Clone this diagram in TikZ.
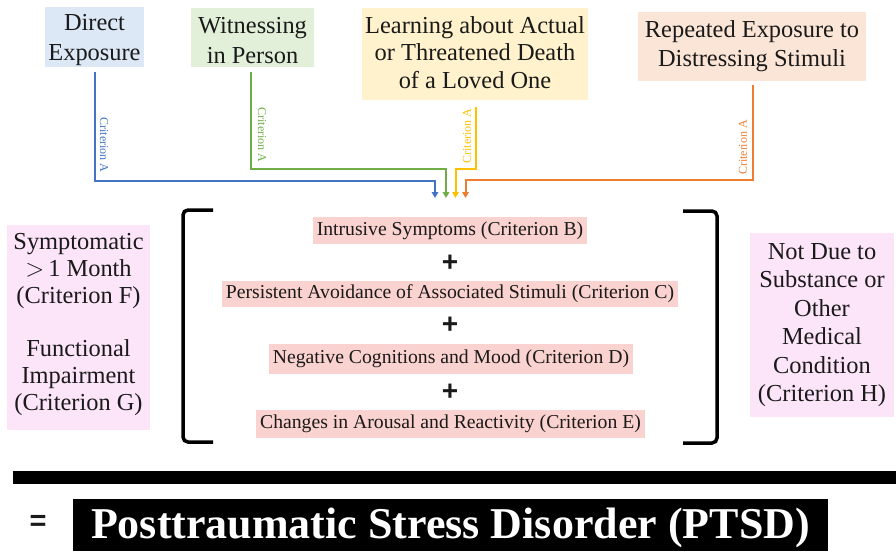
\documentclass[tikz,border=0pt]{standalone}
\usepackage{fontspec}
\setmainfont{Liberation Serif}
\newfontfamily\symfont{Liberation Sans}
\usetikzlibrary{arrows.meta}
\definecolor{bluefill}{HTML}{DCE8F5}
\definecolor{greenfill}{HTML}{E2F0D9}
\definecolor{yellowfill}{HTML}{FFF2CC}
\definecolor{orangefill}{HTML}{FBE5D6}
\definecolor{pinkfill}{HTML}{FAD2CF}
\definecolor{sidefill}{HTML}{FCE4F9}
\definecolor{cblue}{HTML}{4472C4}
\definecolor{cgreen}{HTML}{70AD47}
\definecolor{cyellow}{HTML}{FFC000}
\definecolor{corange}{HTML}{ED7D31}
\definecolor{txt}{HTML}{1A1A1A}
\begin{document}
\begin{tikzpicture}[x=1pt,y=-1pt,
  boxfill/.style={rectangle,inner sep=0pt,fill=#1},
  boxtext/.style={inner sep=0pt,align=center,text=txt},
  symbox/.style={rectangle,fill=pinkfill,inner xsep=4pt,inner ysep=0pt,
    text height=13.5pt,text depth=4.5pt,text=txt,
    font=\fontsize{19.7}{22}\selectfont},
  plussign/.style={inner sep=0pt,text=txt,font=\symfont\bfseries\fontsize{28}{28}\selectfont},
  conn/.style={line width=2pt,line join=miter,-{Triangle[length=6pt,width=6.5pt]}},
  critlab/.style={inner sep=0pt,font=\fontsize{12}{12}\selectfont},
  bracketline/.style={line width=3.5pt,rounded corners=5pt,line cap=butt}
]
\useasboundingbox (0,0) rectangle (896,551);

% top boxes
\node[boxfill=bluefill,minimum width=99pt,minimum height=60pt] (direct) at (94.5,37) {};
\node[boxtext,font=\fontsize{24.4}{30}\selectfont] (directtext) at (94.5,40) {Direct\\Exposure};
\node[boxfill=greenfill,minimum width=123pt,minimum height=59pt] (witness) at (252.5,37.5) {};
\node[boxtext,font=\fontsize{24.4}{30}\selectfont] (witnesstext) at (252.5,40.5) {Witnessing\\in Person};
\node[boxfill=yellowfill,minimum width=226pt,minimum height=92pt] (learn) at (475,54) {};
\node[boxtext,font=\fontsize{24.4}{27.5}\selectfont] (learntext) at (475,52.5) {Learning about Actual\\or Threatened Death\\of a Loved One};
\node[boxfill=orangefill,minimum width=228pt,minimum height=69pt] (repeat) at (752,46.5) {};
\node[boxtext,font=\fontsize{24.4}{29}\selectfont] (repeattext) at (752,46.5) {Repeated Exposure to\\Distressing Stimuli};

% arrow end points
\coordinate (tb) at (435,198);
\coordinate (tg) at (446,198);
\coordinate (ty) at (455.5,198);
\coordinate (to) at (465.5,198);

% connectors
\draw[conn,cblue] ([yshift=-5pt]direct.south) |- ([yshift=17pt]tb) -- (tb);
\draw[conn,cgreen] ([xshift=-1.5pt,yshift=-5pt]witness.south) |- ([yshift=29pt]tg) -- (tg);
\draw[conn,cyellow] ([xshift=1pt,yshift=-7pt]learn.south) |- ([yshift=29pt]ty) -- (ty);
\draw[conn,corange] ([xshift=0.5pt,yshift=-4pt]repeat.south) |- ([yshift=18pt]to) -- (to);

% connector labels
\node[critlab,text=cblue,rotate=-90] (labb) at (104,145) {Criterion A};
\node[critlab,text=cgreen,rotate=-90] (labg) at (262,135) {Criterion A};
\node[critlab,text=cyellow,rotate=90] (laby) at (467,136) {Criterion A};
\node[critlab,text=corange,rotate=90] (labo) at (743,147.5) {Criterion A};

% brackets
\coordinate (lbt) at (213,210);
\coordinate (lbb) at (213,442);
\coordinate (rbt) at (683,211);
\coordinate (rbb) at (683,443);
\draw[bracketline] (lbt) -- (183,210) -- (183,442) -- (lbb);
\draw[bracketline] (rbt) -- (717,211) -- (717,443) -- (rbb);

% symptom boxes
\node[symbox,minimum height=27pt] (critB) at (450,230.5) {Intrusive Symptoms (Criterion B)};
\node[plussign] (p1) at (450,263) {+};
\node[symbox,minimum height=26pt] (critC) at (450,293.5) {Persistent Avoidance of Associated Stimuli (Criterion C)};
\node[plussign] (p2) at (450,325) {+};
\node[symbox,minimum height=30pt] (critD) at (451,359) {Negative Cognitions and Mood (Criterion D)};
\node[plussign] (p3) at (450,392) {+};
\node[symbox,minimum height=28pt] (critE) at (450.5,424) {Changes in Arousal and Reactivity (Criterion E)};

% side boxes
\node[boxfill=sidefill,minimum width=143pt,minimum height=205pt] (leftbox) at (78.5,327.5) {};
\node[boxtext,font=\fontsize{24.4}{27}\selectfont] (lefttext) at (78.5,324.5)
  {Symptomatic\\${>}$\,1 Month\\(Criterion F)\\[26pt]Functional\\Impairment\\(Criterion G)};
\node[boxfill=sidefill,minimum width=144pt,minimum height=184pt] (rightbox) at (822,325) {};
\node[boxtext,font=\fontsize{24.4}{28.5}\selectfont] (righttext) at (822,325)
  {Not Due to\\Substance or\\Other\\Medical\\Condition\\(Criterion H)};

% bottom
\node[fill=black,inner sep=0pt,minimum width=883pt,minimum height=13pt] (bar) at (454.5,477.5) {};
\node[inner sep=0pt,font=\symfont\bfseries\fontsize{29}{29}\selectfont,text=txt] (eq) at (38,523) {=};
\node[fill=black,text=white,inner sep=0pt,minimum width=755pt,minimum height=52pt,
  text height=30pt,text depth=4pt,font=\bfseries\fontsize{44}{44}\selectfont] (ptsd) at (450.5,525)
  {Posttraumatic Stress Disorder (PTSD)};
\end{tikzpicture}
\end{document}
